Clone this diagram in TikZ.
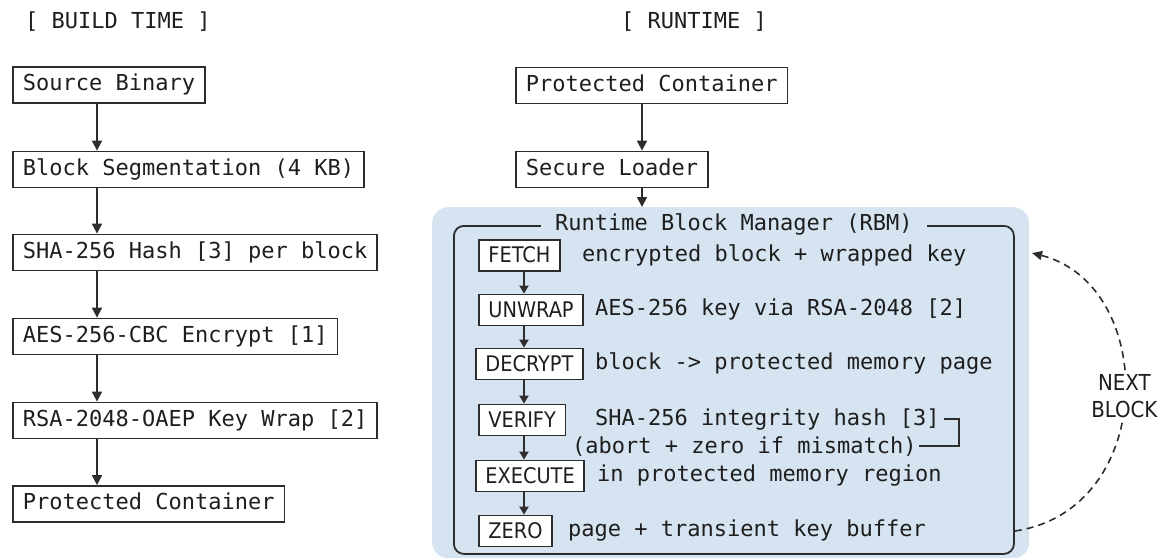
\documentclass[tikz,border=0pt]{standalone}
\usepackage{fontspec}
\setmonofont{DejaVu Sans Mono}
\newfontfamily\condsans{DejaVu Sans Condensed}
\usetikzlibrary{arrows.meta}
\definecolor{ln}{RGB}{45,45,45}
\definecolor{txt}{RGB}{30,30,30}
\definecolor{bluebg}{RGB}{214,228,241}
\begin{document}
\begin{tikzpicture}[x=1pt,y=-1pt,
  mono/.style={font=\fontsize{22}{26}\selectfont\ttfamily, text=txt},
  box/.style={mono, draw=ln, line width=1.8pt, fill=white, anchor=west,
    text height=16pt, text depth=5pt, minimum height=36pt, inner xsep=10pt, inner ysep=0pt},
  stepbox/.style={draw=ln, line width=1.8pt, fill=white, anchor=west,
    text height=15pt, text depth=1pt, minimum height=31pt, inner xsep=9.5pt, inner ysep=0pt,
    font=\fontsize{21.5}{24}\selectfont\condsans, text=txt},
  desc/.style={mono, anchor=west, inner sep=0pt, text height=16pt, text depth=5pt},
  arr/.style={-{Triangle[length=10pt,width=10pt]}, draw=ln, line width=1.8pt},
  sarr/.style={-{Triangle[length=8pt,width=9pt]}, draw=ln, line width=1.8pt},
]
\useasboundingbox (0,0) rectangle (1162,558);

% titles
\node[mono, anchor=west, inner sep=0pt] (bt) at (25,22) {[ BUILD TIME ]};
\node[mono, anchor=west, inner sep=0pt] (rt) at (621,22) {[ RUNTIME ]};

% build time column
\coordinate (lx) at (97,0);
\node[box] (src) at (12,85) {Source Binary};
\node[box] (seg) at (12,169.5) {Block Segmentation (4 KB)};
\node[box] (sha) at (12,252.5) {SHA-256 Hash [3] per block};
\node[box] (aes) at (12,336.5) {AES-256-CBC Encrypt [1]};
\node[box] (rsa) at (12,420.5) {RSA-2048-OAEP Key Wrap [2]};
\node[box] (pcb) at (12,504) {Protected Container};
\draw[arr] (src.south -| lx) -- (seg.north -| lx);
\draw[arr] (seg.south -| lx) -- (sha.north -| lx);
\draw[arr] (sha.south -| lx) -- (aes.north -| lx);
\draw[arr] (aes.south -| lx) -- (rsa.north -| lx);
\draw[arr] (rsa.south -| lx) -- (pcb.north -| lx);

% runtime column
\coordinate (rx) at (642,0);
\node[box] (pcr) at (515,85.5) {Protected Container};
\node[box] (sl) at (515,169.5) {Secure Loader};

\node[fill=bluebg, rounded corners=16pt, minimum width=597pt, minimum height=351pt,
  anchor=north west, inner sep=0pt] (rbmbg) at (432,207) {};
\node[draw=ln, line width=1.8pt, rounded corners=10pt, minimum width=560pt, minimum height=328pt,
  anchor=north west, inner sep=0pt] (rbm) at (453,225) {};
\node[mono, fill=bluebg, inner xsep=14pt, inner ysep=0pt, text height=16pt, text depth=5pt] (title) at (rbm.north) {Runtime Block Manager (RBM)};

\draw[arr] (pcr.south -| rx) -- (sl.north -| rx);
\draw[arr] (sl.south -| rx) -- (rbmbg.north -| rx);

% steps
\coordinate (sx) at (524,0);
\node[stepbox] (fetch) at (478,255.5) {FETCH};
\node[stepbox] (unwrap) at (478,310) {UNWRAP};
\node[stepbox] (decrypt) at (475,364) {DECRYPT};
\node[stepbox] (verify) at (478,420) {VERIFY};
\node[stepbox] (execute) at (475,476) {EXECUTE};
\node[stepbox] (zero) at (478,531) {ZERO};

\node[desc] (fetchd) at (582,255.5) {encrypted block + wrapped key};
\node[desc] (unwrapd) at (595,310) {AES-256 key via RSA-2048 [2]};
\node[desc] (decryptd) at (595,364) {block -> protected memory page};
\node[desc] (verifyd) at (595,420) {SHA-256 integrity hash [3]};
\node[desc] (abortd) at (572,448) {(abort + zero if mismatch)};
\node[desc] (executed) at (597,476) {in protected memory region};
\node[desc] (zerod) at (568,531) {page + transient key buffer};

\draw[sarr] (fetch.south -| sx) -- (unwrap.north -| sx);
\draw[sarr] (unwrap.south -| sx) -- (decrypt.north -| sx);
\draw[sarr] (decrypt.south -| sx) -- (verify.north -| sx);
\draw[sarr] (verify.south -| sx) -- (execute.north -| sx);
\draw[sarr] (execute.south -| sx) -- (zero.north -| sx);

\draw[draw=ln, line width=1.5pt] ([xshift=4pt,yshift=1pt]verifyd.east) -- ([xshift=19pt,yshift=1pt]verifyd.east) |- ([xshift=2pt,yshift=2pt]abortd.east);

% next block loop
\coordinate (loopstart) at (rbm.east |- zero);
\coordinate (loopend) at (1032,253);
\draw[draw=ln, line width=1.6pt, dash pattern=on 7pt off 5pt, -{Triangle[length=10pt,width=9pt]}]
  (loopstart) .. controls (1158,510) and (1158,285) .. (loopend)
  node[pos=0.5, fill=white, inner sep=2pt, align=center, font=\fontsize{22}{27}\selectfont\condsans, text=txt] (nb) {NEXT\\BLOCK};
\end{tikzpicture}
\end{document}
